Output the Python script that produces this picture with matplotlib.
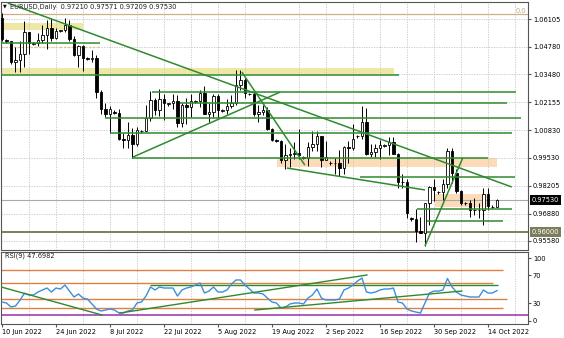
import matplotlib
matplotlib.use('Agg')
import matplotlib.pyplot as plt
import matplotlib.transforms as mtransforms
from matplotlib.ticker import FixedLocator, MultipleLocator
import numpy as np

plt.rcParams['font.family'] = ['DejaVu Sans']

# ---------------- data ----------------
dates = [
    '2022-06-10',
    '2022-06-12', '2022-06-13', '2022-06-14', '2022-06-15', '2022-06-16', '2022-06-17',
    '2022-06-19', '2022-06-20', '2022-06-21', '2022-06-22', '2022-06-23', '2022-06-24',
    '2022-06-26', '2022-06-27', '2022-06-28', '2022-06-29', '2022-06-30', '2022-07-01',
    '2022-07-03', '2022-07-04', '2022-07-05', '2022-07-06', '2022-07-07', '2022-07-08',
    '2022-07-10', '2022-07-11', '2022-07-12', '2022-07-13', '2022-07-14', '2022-07-15',
    '2022-07-17', '2022-07-18', '2022-07-19', '2022-07-20', '2022-07-21', '2022-07-22',
    '2022-07-24', '2022-07-25', '2022-07-26', '2022-07-27', '2022-07-28', '2022-07-29',
    '2022-07-31', '2022-08-01', '2022-08-02', '2022-08-03', '2022-08-04', '2022-08-05',
    '2022-08-07', '2022-08-08', '2022-08-09', '2022-08-10', '2022-08-11', '2022-08-12',
    '2022-08-14', '2022-08-15', '2022-08-16', '2022-08-17', '2022-08-18', '2022-08-19',
    '2022-08-21', '2022-08-22', '2022-08-23', '2022-08-24', '2022-08-25', '2022-08-26',
    '2022-08-28', '2022-08-29', '2022-08-30', '2022-08-31', '2022-09-01', '2022-09-02',
    '2022-09-04', '2022-09-05', '2022-09-06', '2022-09-07', '2022-09-08', '2022-09-09',
    '2022-09-11', '2022-09-12', '2022-09-13', '2022-09-14', '2022-09-15', '2022-09-16',
    '2022-09-18', '2022-09-19', '2022-09-20', '2022-09-21', '2022-09-22', '2022-09-23',
    '2022-09-25', '2022-09-26', '2022-09-27', '2022-09-28', '2022-09-29', '2022-09-30',
    '2022-10-02', '2022-10-03', '2022-10-04', '2022-10-05', '2022-10-06', '2022-10-07',
    '2022-10-09', '2022-10-10', '2022-10-11', '2022-10-12', '2022-10-13', '2022-10-14',
    '2022-10-16', '2022-10-17',
]

opens = [
    1.0617,
    1.0510, 1.0505, 1.0408, 1.0415, 1.0445, 1.0550,
    1.0492, 1.0496, 1.0512, 1.0533, 1.0567, 1.0521,
    1.0555, 1.0556, 1.0584, 1.0518, 1.0442, 1.0484,
    1.0425, 1.0422, 1.0425, 1.0265, 1.0182, 1.0161,
    1.0170, 1.0165, 1.0040, 1.0036, 1.0061, 1.0018,
    1.0080, 1.0078, 1.0142, 1.0228, 1.0180, 1.0229,
    1.0208, 1.0210, 1.0222, 1.0118, 1.0201, 1.0195,
    1.0218, 1.0220, 1.0261, 1.0162, 1.0168, 1.0245,
    1.0176, 1.0178, 1.0196, 1.0212, 1.0298, 1.0322,
    1.0255, 1.0255, 1.0161, 1.0171, 1.0178, 1.0088,
    1.0035, 1.0032, 0.9942, 0.9967, 0.9970, 0.9973,
    0.9955, 0.9950, 1.0005, 1.0016, 1.0054, 0.9944,
    0.9930, 0.9928, 0.9928, 0.9904, 1.0003, 0.9999,
    1.0055, 1.0058, 1.0121, 0.9970, 0.9979, 0.9999,
    1.0010, 1.0012, 1.0026, 0.9972, 0.9837, 0.9837,
    0.9665, 0.9660, 0.9606, 0.9595, 0.9737, 0.9813,
    0.9790, 0.9792, 0.9826, 0.9985, 0.9882, 0.9794,
    0.9738, 0.9736, 0.9705, 0.9706, 0.9703, 0.9779,
    0.9720, 0.97210,
]
highs = [
    1.0638,
    1.0514, 1.0507, 1.0477, 1.0505, 1.0601, 1.0550,
    1.0500, 1.0545, 1.0583, 1.0606, 1.0614, 1.0570,
    1.0560, 1.0615, 1.0606, 1.0530, 1.0487, 1.0486,
    1.0430, 1.0463, 1.0442, 1.0276, 1.0213, 1.0199,
    1.0178, 1.0185, 1.0072, 1.0122, 1.0094, 1.0098,
    1.0086, 1.0201, 1.0269, 1.0234, 1.0279, 1.0255,
    1.0214, 1.0257, 1.0249, 1.0214, 1.0234, 1.0254,
    1.0225, 1.0274, 1.0294, 1.0213, 1.0254, 1.0253,
    1.0182, 1.0232, 1.0249, 1.0368, 1.0368, 1.0331,
    1.0262, 1.0267, 1.0203, 1.0202, 1.0192, 1.0094,
    1.0040, 1.0037, 1.0018, 0.9999, 1.0028, 1.0090,
    0.9962, 1.0027, 1.0080, 1.0079, 1.0055, 1.0033,
    0.9936, 0.9951, 0.9988, 1.0010, 1.0030, 1.0113,
    1.0062, 1.0198, 1.0187, 1.0019, 1.0017, 1.0036,
    1.0016, 1.0050, 1.0051, 0.9976, 0.9875, 0.9852,
    0.9672, 0.9710, 0.9671, 0.9740, 0.9817, 0.9854,
    0.9796, 0.9853, 0.9999, 0.9997, 0.9898, 0.9800,
    0.9744, 0.9750, 0.9764, 0.9740, 0.9807, 0.9807,
    0.9728, 0.97571,
]
lows = [
    1.0507,
    1.0498, 1.0398, 1.0360, 1.0358, 1.0383, 1.0444,
    1.0488, 1.0482, 1.0497, 1.0469, 1.0507, 1.0514,
    1.0550, 1.0547, 1.0506, 1.0437, 1.0382, 1.0366,
    1.0418, 1.0408, 1.0235, 1.0161, 1.0144, 1.0071,
    1.0160, 1.0036, 0.9999, 0.9998, 0.9952, 1.0007,
    1.0072, 1.0078, 1.0125, 1.0155, 1.0152, 1.0130,
    1.0200, 1.0185, 1.0097, 1.0097, 1.0113, 1.0146,
    1.0212, 1.0195, 1.0162, 1.0123, 1.0144, 1.0141,
    1.0170, 1.0159, 1.0190, 1.0202, 1.0275, 1.0234,
    1.0248, 1.0150, 1.0122, 1.0153, 1.0083, 1.0032,
    1.0025, 0.9926, 0.9901, 0.9908, 0.9947, 0.9948,
    0.9945, 0.9913, 0.9987, 0.9985, 0.9910, 0.9941,
    0.9920, 0.9877, 0.9864, 0.9875, 0.9929, 0.9991,
    1.0048, 1.0042, 0.9966, 0.9955, 0.9955, 0.9945,
    1.0002, 0.9966, 0.9969, 0.9809, 0.9807, 0.9669,
    0.9655, 0.9551, 0.9594, 0.9536, 0.9635, 0.9748,
    0.9782, 0.9750, 0.9808, 0.9835, 0.9787, 0.9728,
    0.9730, 0.9670, 0.9681, 0.9667, 0.9632, 0.9706,
    0.9716, 0.97209,
]
closes = [
    1.0518,
    1.0505, 1.0408, 1.0415, 1.0445, 1.0550, 1.0496,
    1.0496, 1.0512, 1.0533, 1.0567, 1.0521, 1.0554,
    1.0556, 1.0584, 1.0518, 1.0442, 1.0484, 1.0427,
    1.0422, 1.0425, 1.0265, 1.0182, 1.0161, 1.0186,
    1.0165, 1.0040, 1.0036, 1.0061, 1.0018, 1.0082,
    1.0078, 1.0142, 1.0228, 1.0180, 1.0229, 1.0212,
    1.0210, 1.0222, 1.0118, 1.0201, 1.0195, 1.0220,
    1.0220, 1.0261, 1.0162, 1.0168, 1.0245, 1.0180,
    1.0178, 1.0196, 1.0212, 1.0298, 1.0322, 1.0259,
    1.0255, 1.0161, 1.0171, 1.0178, 1.0088, 1.0038,
    1.0032, 0.9942, 0.9967, 0.9970, 0.9973, 0.9964,
    0.9950, 1.0005, 1.0016, 1.0054, 0.9944, 0.9954,
    0.9928, 0.9928, 0.9904, 1.0003, 0.9999, 1.0042,
    1.0058, 1.0121, 0.9970, 0.9979, 0.9999, 1.0014,
    1.0012, 1.0026, 0.9972, 0.9837, 0.9837, 0.9689,
    0.9660, 0.9606, 0.9595, 0.9737, 0.9813, 0.9800,
    0.9792, 0.9826, 0.9985, 0.9882, 0.9794, 0.9740,
    0.9736, 0.9705, 0.9706, 0.9703, 0.9779, 0.9722,
    0.9721, 0.97530,
]

rsi_values = [
    31.4,
    30.0, 24.3, 25.7, 34.0, 44.0, 41.4,
    41.4, 45.7, 48.6, 51.4, 45.7, 51.4,
    50.0, 55.7, 47.0, 38.6, 42.9, 37.0,
    35.7, 28.6, 21.4, 18.6, 20.0, 21.4,
    20.0, 15.7, 15.7, 18.6, 20.0, 30.0,
    31.4, 40.0, 52.9, 48.6, 52.9, 51.4,
    51.4, 51.4, 40.0, 48.6, 51.4, 52.9,
    55.7, 58.6, 44.3, 47.0, 52.9, 45.7,
    45.7, 48.6, 57.0, 62.9, 62.9, 55.7,
    50.0, 44.3, 44.3, 42.9, 37.0, 31.4,
    30.0, 22.9, 24.3, 28.6, 30.0, 30.0,
    28.6, 37.0, 41.4, 50.0, 37.0, 34.3,
    34.3, 34.3, 35.7, 48.6, 51.4, 55.7,
    61.4, 65.7, 45.7, 44.3, 45.7, 48.6,
    50.0, 50.0, 51.4, 31.4, 30.0, 21.4,
    18.6, 17.1, 15.7, 30.0, 44.3, 47.0,
    47.0, 48.6, 65.0, 53.0, 45.7, 41.4,
    40.0, 38.6, 38.6, 38.6, 48.6, 44.3,
    44.3, 47.7,
]

tick_dates = ['2022-06-10', '2022-06-24', '2022-07-08', '2022-07-22', '2022-08-05',
              '2022-08-19', '2022-09-02', '2022-09-16', '2022-09-30', '2022-10-14']
tick_labels = ['10 Jun 2022', '24 Jun 2022', '8 Jul 2022', '22 Jul 2022', '5 Aug 2022',
               '19 Aug 2022', '2 Sep 2022', '16 Sep 2022', '30 Sep 2022', '14 Oct 2022']

price_ticks = [1.06105, 1.04780, 1.03480, 1.02155, 1.00830, 0.99530, 0.98205, 0.96880, 0.95580]
last_price = 0.97530
support_price = 0.96000
fib_price = 1.0634

# drawn objects (bar index, price)
trend_lines = [
    [(1.3, 1.0686), (113.3, 0.9814)],
    [(29.1, 0.9956), (61.8, 1.0264)],
    [(53.3, 1.0359), (67.3, 0.9918)],
    [(63.3, 0.9904), (94.0, 0.9800)],
    [(94.0, 0.9534), (102.4, 0.9952)],
]
h_lines = [  # (price, start, end)
    (1.0497, -0.3, 21.8),
    (1.0345, -0.3, 88.2),
    (1.0264, 33.3, 114.2),
    (1.0212, 39.6, 112.2),
    (1.0141, 22.9, 115.3),
    (1.0070, 24.0, 113.3),
    (0.9952, 28.9, 108.0),
    (0.9861, 79.6, 114.0),
    (0.9710, 92.2, 113.3),
    (0.9653, 94.4, 111.3),
]
yellow_zones = [  # (low, high, start, end)
    (1.0558, 1.0592, -0.3, 18.0),
    (1.0350, 1.0378, -0.3, 87.1),
]
peach_zones = [
    (0.9909, 0.9952, 61.1, 110.0),
    (0.9719, 0.9781, 96.2, 108.0),
]
khaki_dotted = (1.0478, -0.3, 21.8)

rsi_levels_orange = [(77.0, -0.3, 111.3), (58.6, -0.3, 109.1), (35.7, -0.3, 112.2), (22.9, -0.3, 111.3)]
rsi_level_purple = (12.9, -0.3, 117.0)
rsi_level_green = (55.7, 32.9, 110.2)
rsi_trend_lines = [
    [(-0.4, 53.3), (22.2, 12.9)],
    [(26.2, 15.7), (81.1, 70.0)],
    [(56.2, 20.0), (102.2, 47.1)],
]

# ---------------- figure ----------------
W, H = 564, 338
fig = plt.figure(figsize=(W / 100, H / 100), dpi=100)
fig.patch.set_facecolor('white')

ax = fig.add_axes([1 / W, 1 - 250 / H, 527 / W, 248 / H])
rax = fig.add_axes([1 / W, 1 - 324 / H, 527 / W, 72.5 / H])

FS = 4.8
GREEN = '#2f8a2f'
GRID = '#c4c4c4'
FRAME = '#555555'

x = np.arange(len(dates))
o = np.array(opens); c = np.array(closes); h = np.array(highs); l = np.array(lows)
up = c >= o

xlim = (-0.22, 116.9)
for a in (ax, rax):
    a.set_xlim(*xlim)
    a.xaxis.set_minor_locator(MultipleLocator(6))
    a.grid(True, which='minor', axis='x', color=GRID, linestyle=(0, (1.5, 1.5)), lw=0.6, zorder=0)
    for s in a.spines.values():
        s.set_color(FRAME)
        s.set_linewidth(0.8)
    a.set_axisbelow(True)

ax.set_ylim(0.95153, 1.06911)
ax.set_yticks(price_ticks)
ax.set_yticklabels(['%.5f' % p for p in price_ticks])
ax.yaxis.tick_right()
ax.tick_params(axis='y', labelsize=FS, length=2, pad=1.5, color=FRAME)
ax.tick_params(axis='x', which='both', length=0, labelbottom=False)
ax.grid(True, which='major', axis='y', color=GRID, linestyle=(0, (1.5, 1.5)), lw=0.6, zorder=0)

# zones
for lo, hi, s, e in yellow_zones:
    ax.fill_between([s, e], [lo, lo], [hi, hi], color='#efe7a6', lw=0, zorder=0.5)
for lo, hi, s, e in peach_zones:
    ax.fill_between([s, e], [lo, lo], [hi, hi], color='#fcdcb8', lw=0, zorder=0.5)
ax.hlines(khaki_dotted[0], khaki_dotted[1], khaki_dotted[2], color='#d8cc78', lw=1.0,
          linestyle=(0, (1.5, 1.5)), zorder=0.6)

# full-width lines
ax.axhline(fib_price, color='#cdb08a', lw=0.9, zorder=1)
ax.axhline(last_price, color='#a8a8a8', lw=0.8, zorder=1)
ax.axhline(support_price, color='#7d7d5c', lw=1.4, zorder=1)

# candles
ax.vlines(x, l, h, color='black', lw=0.7, zorder=2)
bb = np.minimum(o, c)
bh = np.abs(c - o)
ax.bar(x[up], bh[up], bottom=bb[up], width=0.62, color='white', edgecolor='black',
       linewidth=0.6, zorder=3)
ax.bar(x[~up], bh[~up], bottom=bb[~up], width=0.62, color='black', edgecolor='black',
       linewidth=0.6, zorder=3)

# drawn lines
for p, s, e in h_lines:
    ax.hlines(p, s, e, color=GREEN, lw=1.1, zorder=4)
for (x0, y0), (x1, y1) in trend_lines:
    ax.plot([x0, x1], [y0, y1], color=GREEN, lw=1.1, zorder=4, solid_capstyle='butt')

# labels on price axis
btr = mtransforms.blended_transform_factory(ax.transAxes, ax.transData)
ax.text(1.0 + 4 / 527, last_price, '%.5f' % last_price, transform=btr, fontsize=FS,
        color='white', va='center', ha='left',
        bbox=dict(boxstyle='square,pad=0.25', fc='black', ec='black', lw=0))
ax.text(1.0 + 4 / 527, support_price, '%.5f' % support_price, transform=btr, fontsize=FS,
        color='white', va='center', ha='left',
        bbox=dict(boxstyle='square,pad=0.25', fc='#7d7d5c', ec='#7d7d5c', lw=0))
ax.text(1.0 - 2 / 527, fib_price, '0.0', transform=btr, fontsize=FS, color='#c8a878',
        va='bottom', ha='right')

# header
fig.text(3 / W, 1 - 6 / H, '\u25bc', fontsize=3.5, va='center', ha='left', color='black')
fig.text(10 / W, 1 - 7 / H, 'EURUSD,Daily  0.97210 0.97571 0.97209 0.97530',
         fontsize=FS, va='center', ha='left', color='#202020')

# ---------------- RSI ----------------
rax.set_ylim(0, 103.6)
rax.plot(x, rsi_values, color='#3a8ee0', lw=1.0, zorder=3)
for v, s, e in rsi_levels_orange:
    rax.hlines(v, s, e, color='#e08040', lw=1.0, zorder=2)
rax.hlines(rsi_level_purple[0], rsi_level_purple[1], rsi_level_purple[2], color='#9a2fa8', lw=1.1, zorder=2)
rax.hlines(rsi_level_green[0], rsi_level_green[1], rsi_level_green[2], color=GREEN, lw=1.0, zorder=2)
for (x0, y0), (x1, y1) in rsi_trend_lines:
    rax.plot([x0, x1], [y0, y1], color=GREEN, lw=1.0, zorder=4)

rax.yaxis.tick_right()
rax.set_yticks([94.3, 70, 30, 4.3])
rax.set_yticklabels(['100', '70', '30', '0'])
rax.tick_params(axis='y', labelsize=FS, length=2, pad=1.5, color=FRAME)
rax.text(4 / 527, 97.0, 'RSI(9) 47.6982', transform=mtransforms.blended_transform_factory(rax.transAxes, rax.transData),
         fontsize=FS, va='center', ha='left', color='#202020')

tick_pos = [dates.index(d) for d in tick_dates]
rax.set_xticks(tick_pos)
rax.set_xticklabels(tick_labels, ha='left')
rax.tick_params(axis='x', which='major', labelsize=FS, length=2.5, pad=1, color=FRAME)
rax.tick_params(axis='x', which='minor', length=0)

fig.savefig('out.png', dpi=100, facecolor='white')
